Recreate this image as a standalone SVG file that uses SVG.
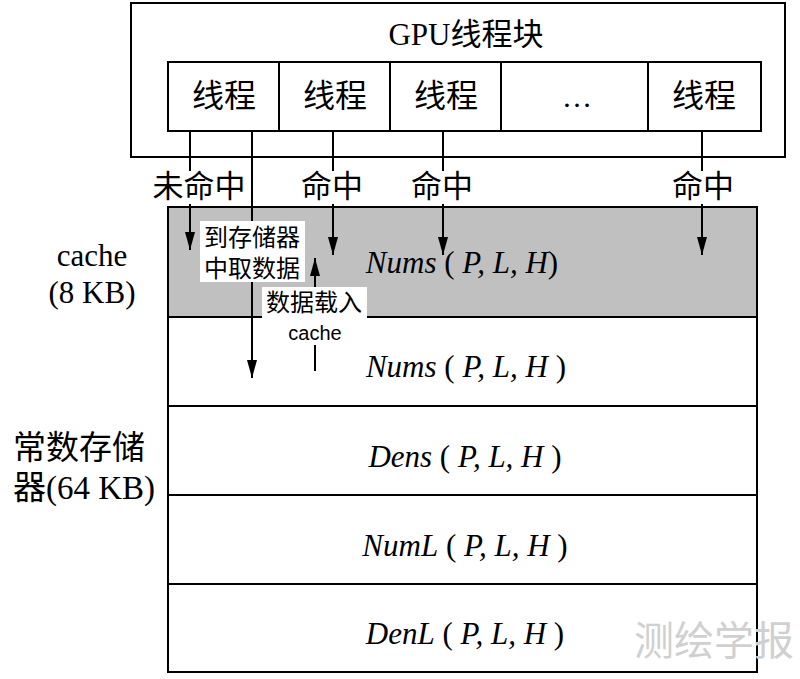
<svg xmlns="http://www.w3.org/2000/svg" width="800" height="679" viewBox="0 0 800 679">
<style>
.t{font-family:"Liberation Serif","Noto Sans CJK SC",serif;fill:#000}
.box{fill:none;stroke:#000;stroke-width:2}
.ln{stroke:#000;stroke-width:2;fill:none}
.it{font-family:"Liberation Serif",serif;font-style:italic;font-size:31px;fill:#000}
.up{font-family:"Liberation Serif",serif;font-style:normal}
</style>
<defs>
<marker id="a2" viewBox="0 0 18 10" refX="18" refY="5" markerWidth="18" markerHeight="10" markerUnits="userSpaceOnUse" orient="auto">
<path d="M0,0 L18,5 L0,10 Z"/>
</marker>
</defs>
<rect width="800" height="679" fill="#fff"/>
<g id="gpu-block">
<rect x="131" y="3" width="654" height="154" class="box"/>
<text x="466" y="45" font-size="31" text-anchor="middle" class="t">GPU线程块</text>
</g>
<g id="threads">
<rect x="168" y="62" width="593" height="69" class="box"/>
<line x1="279" y1="62" x2="279" y2="131" class="ln"/>
<line x1="390" y1="62" x2="390" y2="131" class="ln"/>
<line x1="501" y1="62" x2="501" y2="131" class="ln"/>
<line x1="648" y1="62" x2="648" y2="131" class="ln"/>
<text x="224" y="107" font-size="32" text-anchor="middle" class="t">线程</text>
<text x="335" y="107" font-size="32" text-anchor="middle" class="t">线程</text>
<text x="446" y="107" font-size="32" text-anchor="middle" class="t">线程</text>
<text x="577" y="107" font-size="30" text-anchor="middle" class="t">…</text>
<text x="704" y="107" font-size="32" text-anchor="middle" class="t">线程</text>
</g>
<g id="memory">
<rect x="168" y="207" width="589" height="110" fill="#c0c0c0"/>
<rect x="168" y="207" width="589" height="465" class="box"/>
<line x1="168" y1="317" x2="757" y2="317" class="ln"/>
<line x1="168" y1="406" x2="757" y2="406" class="ln"/>
<line x1="168" y1="495" x2="757" y2="495" class="ln"/>
<line x1="168" y1="584" x2="757" y2="584" class="ln"/>
<text x="462" y="273" class="it" text-anchor="middle">Nums<tspan class="up"> (</tspan> P, L, H<tspan class="up">)</tspan></text>
<text x="466" y="377" class="it" text-anchor="middle">Nums<tspan class="up"> (</tspan> P, L, H <tspan class="up">)</tspan></text>
<text x="465" y="467" class="it" text-anchor="middle">Dens<tspan class="up"> (</tspan> P, L, H <tspan class="up">)</tspan></text>
<text x="465" y="556" class="it" text-anchor="middle">NumL<tspan class="up"> (</tspan> P, L, H <tspan class="up">)</tspan></text>
<text x="465" y="644" class="it" text-anchor="middle">DenL<tspan class="up"> (</tspan> P, L, H <tspan class="up">)</tspan></text>
</g>
<g id="connectors">
<line x1="190" y1="131" x2="190" y2="171" class="ln"/>
<line x1="190" y1="204" x2="190" y2="250" class="ln" marker-end="url(#a2)"/>
<line x1="252" y1="131" x2="252" y2="378" class="ln" marker-end="url(#a2)"/>
<line x1="333" y1="131" x2="333" y2="171" class="ln"/>
<line x1="333" y1="204" x2="333" y2="255" class="ln" marker-end="url(#a2)"/>
<line x1="443" y1="131" x2="443" y2="171" class="ln"/>
<line x1="443" y1="204" x2="443" y2="255" class="ln" marker-end="url(#a2)"/>
<line x1="702" y1="131" x2="702" y2="171" class="ln"/>
<line x1="702" y1="204" x2="702" y2="255" class="ln" marker-end="url(#a2)"/>
<line x1="315" y1="371" x2="315" y2="258" class="ln" marker-end="url(#a2)"/>
</g>
<g id="labels">
<text x="199" y="197" font-size="31" text-anchor="middle" class="t">未命中</text>
<text x="332" y="197" font-size="31" text-anchor="middle" class="t">命中</text>
<text x="442" y="197" font-size="31" text-anchor="middle" class="t">命中</text>
<text x="703" y="197" font-size="31" text-anchor="middle" class="t">命中</text>
</g>
<g id="label-fetch">
<rect x="200" y="221" width="105" height="61" fill="#fff"/>
<text x="252" y="246" font-size="24" text-anchor="middle" class="t">到存储器</text>
<text x="252" y="277" font-size="24" text-anchor="middle" class="t">中取数据</text>
</g>
<g id="label-load">
<rect x="262" y="287" width="105" height="58" fill="#fff"/>
<text x="314" y="311" font-size="24" text-anchor="middle" class="t">数据载入</text>
<text x="315" y="340" font-size="20" text-anchor="middle" font-family="Liberation Sans, sans-serif">cache</text>
</g>
<g id="side-labels">
<text x="92" y="266" font-size="31" text-anchor="middle" class="t">cache</text>
<text x="92" y="303" font-size="31" text-anchor="middle" class="t">(8 KB)</text>
<text x="13" y="459" font-size="33" class="t">常数存储</text>
<text x="13" y="499" font-size="33" class="t">器(64 KB)</text>
</g>
<text x="714" y="655" font-size="40" text-anchor="middle" font-family="Noto Sans CJK SC, sans-serif" fill="#d0d0d0">测绘学报</text>
</svg>
